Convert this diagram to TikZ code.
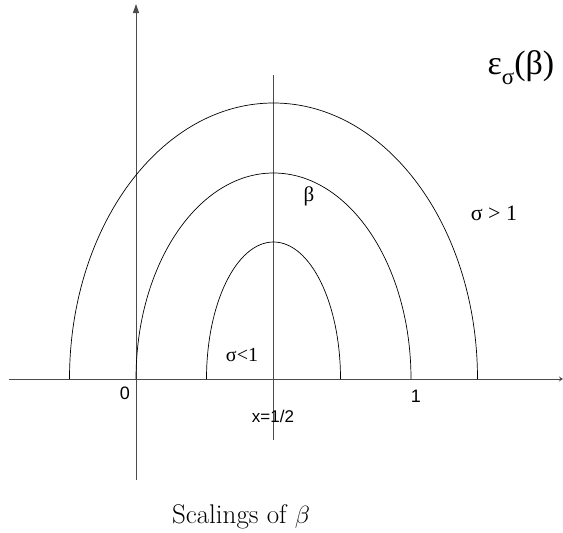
\documentclass[tikz,border=0pt]{standalone}
\usepackage{fontspec}
\newfontfamily\grk{Liberation Serif}
\newfontfamily\snf{Liberation Sans}
\usetikzlibrary{arrows.meta}
\begin{document}
\begin{tikzpicture}[x=1pt,y=-1pt,
  axis/.style={draw=black!70,line width=0.9pt},
  arch/.style={draw=black,line width=0.7pt},
  glab/.style={font=\grk\fontsize{21}{21}\selectfont,inner sep=0pt},
  slab/.style={font=\snf\fontsize{18}{18}\selectfont,inner sep=0pt}]
\useasboundingbox (0,0) rectangle (563,533);
% axes
\coordinate (xl) at (9,379);
\coordinate (xr) at (563,379);
\coordinate (yb) at (136,480);
\coordinate (yt) at (136,4);
\coordinate (hb) at (273.5,440);
\coordinate (ht) at (273.5,75);
\draw[axis,-{Stealth[open,length=4pt,width=5pt]}] (xl) -- (xr);
\draw[axis,-{Triangle[length=9pt,width=6pt]}] (yb) -- (yt);
\draw[axis] (hb) -- (ht);
% arches (semi-ellipses)
\draw[arch] (69.5,379) arc[start angle=180,end angle=360,x radius=204,y radius=276];
\draw[arch] (136,379) arc[start angle=180,end angle=360,x radius=137.5,y radius=206];
\draw[arch] (206.5,379) arc[start angle=180,end angle=360,x radius=67,y radius=137];
% labels
\node[glab,font=\grk\fontsize{34}{34}\selectfont] (eps) at (521,68) {ε\raisebox{-0.3em}{\fontsize{23}{23}\selectfont σ}(β)};
\node[glab,font=\grk\fontsize{22}{22}\selectfont] (sg) at (494,213) {σ > 1};
\node[glab,font=\grk\fontsize{20}{20}\selectfont] (sl) at (242,355) {σ<1};
\node[glab] (b) at (309,196) {β};
\node[slab] (z) at (125,393) {0};
\node[slab] (o) at (416,396) {1};
\node[slab,font=\snf\fontsize{17}{17}\selectfont] (h) at (273,416) {x=1/2};
\node[font=\fontsize{27}{27}\selectfont,inner sep=0pt] (cap) at (241,517) {Scalings of $\beta$};
\end{tikzpicture}
\end{document}
